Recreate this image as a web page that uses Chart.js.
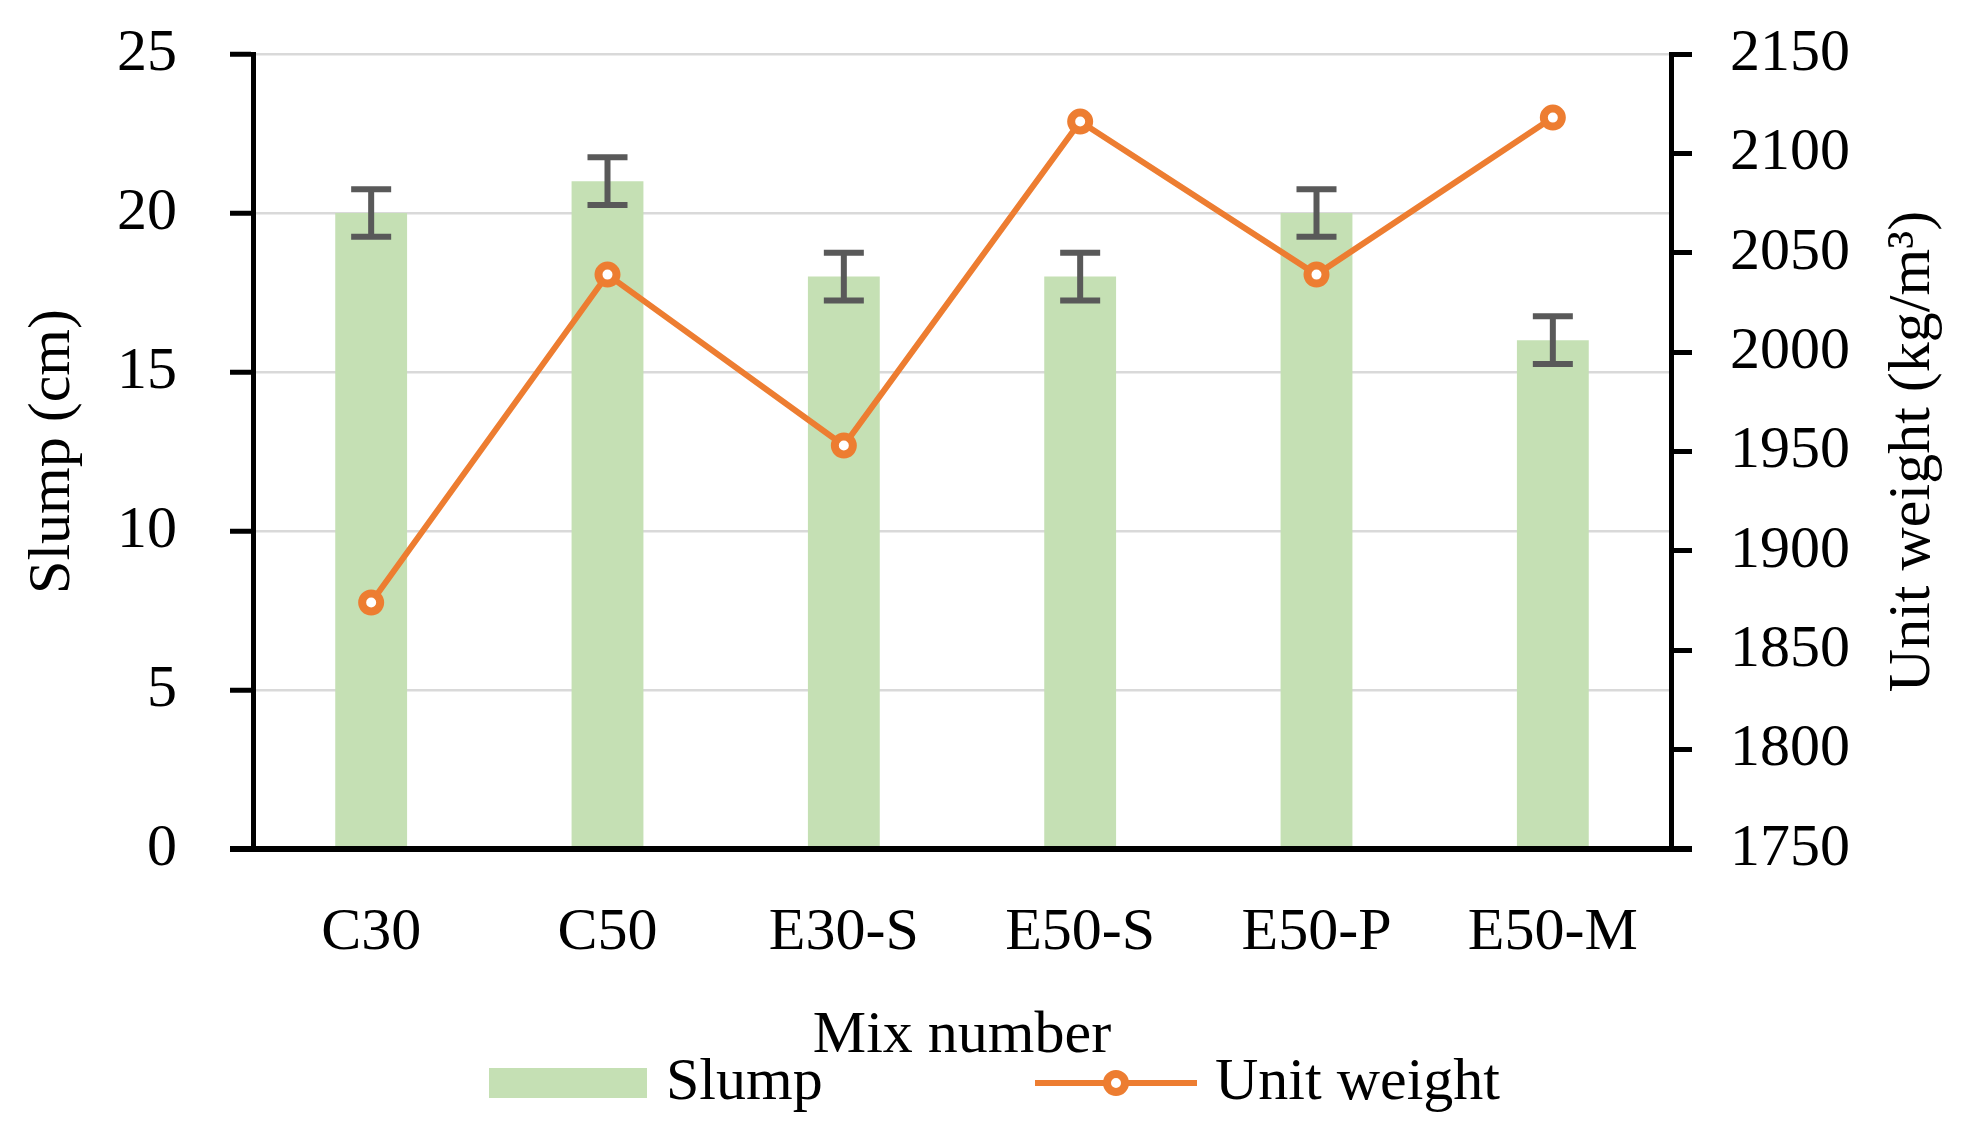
<!DOCTYPE html>
<html>
<head>
<meta charset="utf-8">
<script src="https://cdn.jsdelivr.net/npm/chart.js@4.4.1/dist/chart.umd.min.js"></script>
<style>
    html, body { margin: 0; padding: 0; background: #fff; }
    #wrap { width: 1980px; height: 1145px; }
</style>
</head>
<body>
<div id="wrap"><canvas id="chart"></canvas></div>
<script>
// Data
const mixes = ['C30', 'C50', 'E30-S', 'E50-S', 'E50-P', 'E50-M'];
const slump = [20, 21, 18, 18, 20, 16];
const slumpErr = [0.75, 0.75, 0.75, 0.75, 0.75, 0.75];
const unitWeight = [1874, 2039, 1953, 2116, 2039, 2118];

const slumpMin = 0, slumpMax = 25, slumpStep = 5;
const weightMin = 1750, weightMax = 2150, weightStep = 50;

const FONT = 'Liberation Serif';
const GREEN = '#c5e0b4';
const ORANGE = '#ed7d31';
const ERR = '#595959';

// error bars on the slump bars
const errorBars = {
    id: 'errorBars',
    afterDatasetDraw(chart, args) {
        if (args.index !== 0) return;
        const { ctx } = chart;
        const y = chart.scales.y;
        const meta = chart.getDatasetMeta(0);
        ctx.save();
        ctx.strokeStyle = ERR;
        ctx.lineWidth = 6;
        meta.data.forEach((bar, i) => {
            const top = y.getPixelForValue(slump[i] + slumpErr[i]);
            const bot = y.getPixelForValue(slump[i] - slumpErr[i]);
            ctx.beginPath();
            ctx.moveTo(bar.x, top); ctx.lineTo(bar.x, bot);
            ctx.moveTo(bar.x - 20, top); ctx.lineTo(bar.x + 20, top);
            ctx.moveTo(bar.x - 20, bot); ctx.lineTo(bar.x + 20, bot);
            ctx.stroke();
        });
        ctx.restore();
    }
};

// bottom axis runs out to the tick ends, right title reads upward, custom legend
const extras = {
    id: 'extras',
    afterDatasetsDraw(chart) {
        const { ctx, chartArea } = chart;
        ctx.save();
        ctx.strokeStyle = '#000';
        ctx.lineWidth = 6;
        ctx.beginPath();
        ctx.moveTo(chartArea.left - 23, chartArea.bottom);
        ctx.lineTo(chartArea.right + 21, chartArea.bottom);
        ctx.stroke();
        ctx.restore();
    },
    afterDraw(chart) {
        const { ctx, chartArea } = chart;
        const midY = (chartArea.top + chartArea.bottom) / 2;
        ctx.save();
        ctx.fillStyle = '#000';
        ctx.font = `60px "${FONT}"`;
        ctx.textAlign = 'center';
        ctx.textBaseline = 'middle';
        ctx.translate(chart.width - 67, midY);
        ctx.rotate(-Math.PI / 2);
        ctx.fillText('Unit weight (kg/m\u00B3)', 0, 0);
        ctx.restore();

        // legend
        const ly = chart.height - 62;
        const x0 = chartArea.left + 236;
        ctx.save();
        ctx.fillStyle = GREEN;
        ctx.fillRect(x0, ly - 15, 158, 30);
        ctx.fillStyle = '#000';
        ctx.font = `60px "${FONT}"`;
        ctx.textBaseline = 'middle';
        ctx.fillText(chart.data.datasets[0].label, x0 + 177, ly);
        const lx = x0 + 546;
        ctx.strokeStyle = ORANGE;
        ctx.lineWidth = 6;
        ctx.beginPath();
        ctx.moveTo(lx, ly); ctx.lineTo(lx + 162, ly);
        ctx.stroke();
        ctx.fillStyle = '#fff';
        ctx.lineWidth = 8;
        ctx.beginPath();
        ctx.arc(lx + 81, ly, 9, 0, Math.PI * 2);
        ctx.fill(); ctx.stroke();
        ctx.fillStyle = '#000';
        ctx.fillText(chart.data.datasets[1].label, lx + 180, ly);
        ctx.restore();
    }
};

const tickFont = { family: FONT, size: 60 };
const plain = v => String(v);

new Chart(document.getElementById('chart'), {
    data: {
        labels: mixes,
        datasets: [
            {
                type: 'bar',
                label: 'Slump',
                data: slump,
                backgroundColor: GREEN,
                yAxisID: 'y',
                categoryPercentage: 1,
                barPercentage: 0.304,
                order: 2
            },
            {
                type: 'line',
                label: 'Unit weight',
                data: unitWeight,
                borderColor: ORANGE,
                borderWidth: 6,
                pointRadius: 9,
                pointBorderWidth: 8,
                pointBackgroundColor: '#fff',
                pointBorderColor: ORANGE,
                tension: 0,
                yAxisID: 'y1',
                order: 1
            }
        ]
    },
    options: {
        responsive: true,
        maintainAspectRatio: false,
        animation: false,
        layout: { padding: { top: 54, left: 0, right: 0, bottom: 0 } },
        plugins: { legend: { display: false }, tooltip: { enabled: false } },
        scales: {
            x: {
                grid: { display: false },
                border: { display: true, color: '#000', width: 6 },
                ticks: { color: '#000', font: tickFont, padding: 40, maxRotation: 0 },
                title: { display: true, text: 'Mix number', color: '#000', font: tickFont, padding: { top: 0, bottom: 73 } },
                afterFit(s) { s.height = 296; s.paddingLeft = 0; s.paddingRight = 0; }
            },
            y: {
                position: 'left',
                min: slumpMin, max: slumpMax,
                ticks: { stepSize: slumpStep, color: '#000', font: tickFont, padding: 53, callback: plain },
                grid: { color: '#d9d9d9', lineWidth: 2.5, tickColor: '#000', tickWidth: 5, tickLength: 23 },
                border: { display: true, color: '#000', width: 5 },
                title: { display: true, text: 'Slump (cm)', color: '#000', font: tickFont, padding: { top: 17, bottom: 0 } },
                afterFit(s) { s.width = 253; s.paddingTop = 0; s.paddingBottom = 0; }
            },
            y1: {
                position: 'right',
                min: weightMin, max: weightMax,
                ticks: { stepSize: weightStep, color: '#000', font: tickFont, padding: 38, callback: plain },
                grid: { drawOnChartArea: false, tickColor: '#000', tickWidth: 5, tickLength: 21 },
                border: { display: true, color: '#000', width: 5 },
                afterFit(s) { s.width = 309; s.paddingTop = 0; s.paddingBottom = 0; }
            }
        }
    },
    plugins: [errorBars, extras]
});
</script>
</body>
</html>
